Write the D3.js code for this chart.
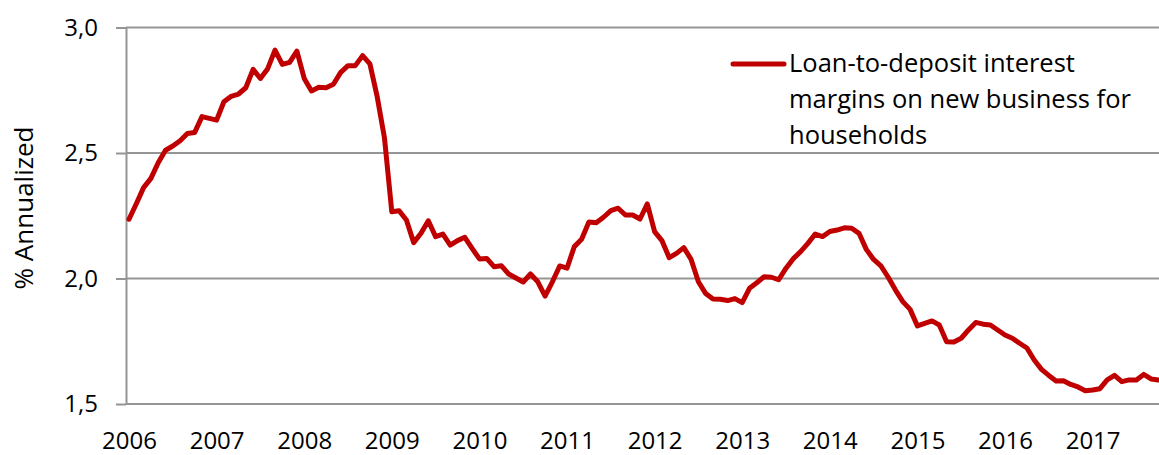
<!DOCTYPE html>
<html>
<head>
<meta charset="utf-8">
<script src="https://cdn.jsdelivr.net/npm/d3@7"></script>
<style>
  body { margin: 0; background: #fff; }
</style>
</head>
<body>
<div id="grafico"></div>
<script>
// Tamaño de la grafica
const w = 1159;
const h = 455;

// Datos: margen mensual, desde enero 2006
const anoInicio = 2006;
const anos = ['2006', '2007', '2008', '2009', '2010', '2011', '2012', '2013', '2014', '2015', '2016', '2017'];
const margen = [
  2.236, 2.298, 2.362, 2.399, 2.461, 2.511, 2.528, 2.549, 2.578, 2.582, 2.645, 2.638,
  2.631, 2.704, 2.726, 2.735, 2.760, 2.833, 2.797, 2.836, 2.910, 2.853, 2.861, 2.906,
  2.797, 2.747, 2.762, 2.760, 2.774, 2.821, 2.848, 2.848, 2.888, 2.855, 2.724, 2.559,
  2.266, 2.270, 2.233, 2.143, 2.180, 2.230, 2.167, 2.177, 2.133, 2.151, 2.164, 2.120,
  2.078, 2.080, 2.047, 2.051, 2.018, 2.002, 1.986, 2.018, 1.987, 1.930, 1.987, 2.050,
  2.041, 2.127, 2.156, 2.225, 2.222, 2.244, 2.270, 2.280, 2.253, 2.253, 2.237, 2.297,
  2.187, 2.151, 2.083, 2.100, 2.123, 2.076, 1.987, 1.940, 1.918, 1.917, 1.912, 1.920,
  1.904, 1.961, 1.983, 2.007, 2.005, 1.995, 2.041, 2.079, 2.107, 2.140, 2.177, 2.167,
  2.187, 2.193, 2.202, 2.200, 2.180, 2.116, 2.076, 2.050, 2.005, 1.954, 1.908, 1.877,
  1.811, 1.821, 1.831, 1.815, 1.748, 1.747, 1.762, 1.795, 1.825, 1.818, 1.815, 1.795,
  1.775, 1.762, 1.742, 1.723, 1.675, 1.638, 1.614, 1.592, 1.593, 1.578, 1.568, 1.553,
  1.556, 1.561, 1.596, 1.614, 1.589, 1.596, 1.596, 1.618, 1.600, 1.596
];
const ticksY = [1.5, 2.0, 2.5, 3.0];
const leyenda = ['Loan-to-deposit interest', 'margins on new business for', 'households'];
const tituloY = '% Annualized';

const fuente = "'Open Sans', sans-serif";
const rojo = '#c00000';
const gris = '#959595';

// Escalas (indice de mes -> x)
const ejeX = 126;
const xScale = d3.scaleLinear()
  .domain([0, 132])
  .range([129, 129 + 132 * 7.3]);

const yScale = d3.scaleLinear()
  .domain([1.5, 3.0])
  .range([404, 27.5]);

const svg = d3.select('#grafico')
  .append('svg')
  .attr('width', w)
  .attr('height', h);

// Lineas de la cuadricula
svg.append('g')
  .selectAll('line')
  .data(ticksY)
  .enter()
  .append('line')
  .attr('x1', ejeX)
  .attr('x2', w)
  .attr('y1', (d) => yScale(d))
  .attr('y2', (d) => yScale(d))
  .attr('stroke', gris)
  .attr('stroke-width', 2);

// Eje Y
const formatoComa = d3.formatLocale({ decimal: ',', thousands: '.', grouping: [3], currency: ['', ''] }).format('.1f');
const gY = svg.append('g')
  .attr('transform', 'translate(' + ejeX + ',0)')
  .call(d3.axisLeft(yScale)
    .tickValues(ticksY)
    .tickFormat(formatoComa)
    .tickSizeInner(10)
    .tickSizeOuter(0)
    .tickPadding(18));
gY.select('.domain').attr('stroke', gris).attr('stroke-width', 2);
gY.selectAll('.tick line').attr('stroke', gris).attr('stroke-width', 2);
gY.selectAll('.tick text')
  .style('font-family', fuente)
  .style('font-size', '24px')
  .attr('fill', '#000');

// Eje X (solo etiquetas)
const gX = svg.append('g')
  .attr('transform', 'translate(0,404)')
  .call(d3.axisBottom(xScale)
    .tickValues(anos.map((a) => (+a - anoInicio) * 12))
    .tickFormat((d, i) => anos[i])
    .tickSize(0)
    .tickPadding(28));
gX.select('.domain').remove();
gX.selectAll('.tick text')
  .style('font-family', fuente)
  .style('font-size', '24px')
  .attr('fill', '#000');

// Serie principal
svg.append('path')
  .datum(margen)
  .attr('fill', 'none')
  .attr('stroke', rojo)
  .attr('stroke-width', 5)
  .attr('stroke-linejoin', 'round')
  .attr('stroke-linecap', 'round')
  .attr('d', d3.line()
    .x((d, i) => xScale(i))
    .y((d) => yScale(d)));

// Titulo eje Y
svg.append('text')
  .attr('text-anchor', 'middle')
  .attr('transform', 'translate(33,208)rotate(-90)')
  .style('font-family', fuente)
  .style('font-size', '26px')
  .text(tituloY);

// Leyenda
svg.append('line')
  .attr('x1', 733)
  .attr('x2', 784)
  .attr('y1', 64)
  .attr('y2', 64)
  .attr('stroke', rojo)
  .attr('stroke-width', 5)
  .attr('stroke-linecap', 'round');

svg.append('text')
  .attr('x', 789)
  .attr('y', 72)
  .style('font-family', fuente)
  .style('font-size', '25.5px')
  .selectAll('tspan')
  .data(leyenda)
  .enter()
  .append('tspan')
  .attr('x', 789)
  .attr('dy', (d, i) => i === 0 ? 0 : 36)
  .text((d) => d);
</script>
</body>
</html>
